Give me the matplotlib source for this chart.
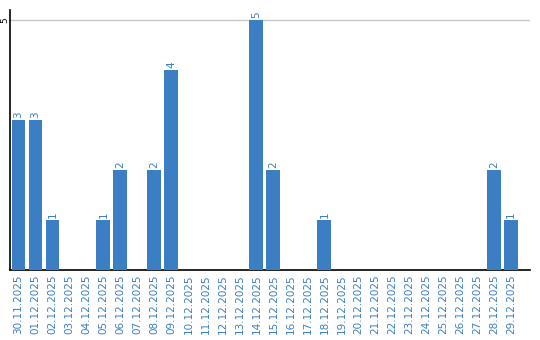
import matplotlib
matplotlib.use("Agg")
import matplotlib.pyplot as plt

dates = ["30.11.2025", "01.12.2025", "02.12.2025", "03.12.2025", "04.12.2025",
         "05.12.2025", "06.12.2025", "07.12.2025", "08.12.2025", "09.12.2025",
         "10.12.2025", "11.12.2025", "12.12.2025", "13.12.2025", "14.12.2025",
         "15.12.2025", "16.12.2025", "17.12.2025", "18.12.2025", "19.12.2025",
         "20.12.2025", "21.12.2025", "22.12.2025", "23.12.2025", "24.12.2025",
         "25.12.2025", "26.12.2025", "27.12.2025", "28.12.2025", "29.12.2025"]
values = [3, 3, 1, 0, 0, 1, 2, 0, 2, 4, 0, 0, 0, 0, 5, 2, 0, 0, 1, 0,
          0, 0, 0, 0, 0, 0, 0, 0, 2, 1]

blue = "#3b7ec3"
fig = plt.figure(figsize=(5.4, 3.4), dpi=100)
ax = fig.add_axes([10/540, 1 - 270/340, 520/540, 260/340])
x = list(range(len(dates)))
ax.bar(x, values, width=0.82, color=blue, zorder=3)
for xi, v in zip(x, values):
    if v > 0:
        ax.text(xi, v + 0.03, str(v), rotation=90, ha="center", va="bottom",
                color=blue, fontsize=7.5, zorder=4)
ax.set_xlim(-0.5, 30.1)
ax.set_ylim(0, 5.2)
ax.set_yticks([5])
ax.set_yticklabels(["5"], rotation=90, va="center", fontsize=6.5)
ax.yaxis.grid(True, color="#c8c8c8", linewidth=1, zorder=0)
ax.set_xticks(x)
ax.set_xticklabels(dates, rotation=90, color=blue, fontsize=7.5)
ax.tick_params(axis="both", length=0, pad=3)
ax.tick_params(axis="y", pad=0.5)
for s in ["top", "right"]:
    ax.spines[s].set_visible(False)
ax.spines["left"].set_color("black")
ax.spines["bottom"].set_color("black")
ax.spines["left"].set_linewidth(1.2)
ax.spines["bottom"].set_linewidth(1.2)
fig.savefig("out.png", dpi=100)
